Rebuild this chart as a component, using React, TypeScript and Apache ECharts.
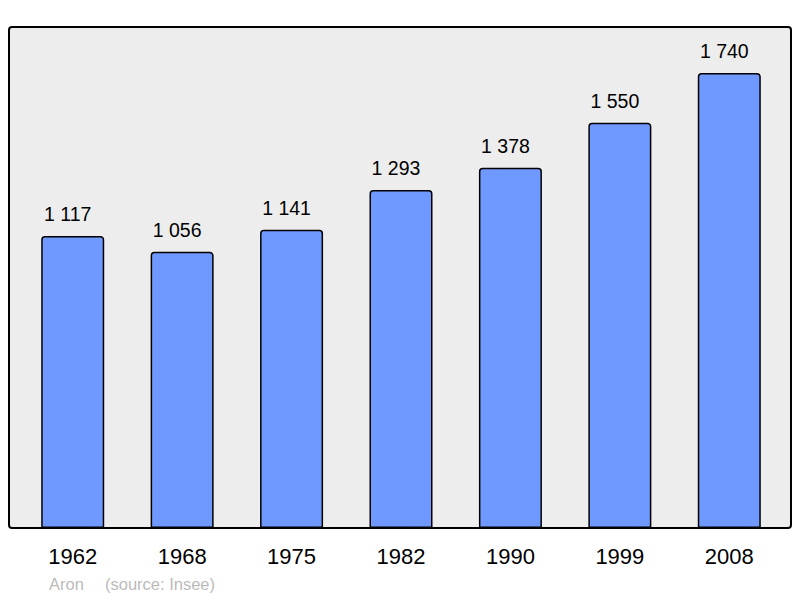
import React, { useEffect, useRef } from "react";
import * as echarts from "echarts";

const years = ["1962", "1968", "1975", "1982", "1990", "1999", "2008"];
const population = [1117, 1056, 1141, 1293, 1378, 1550, 1740];
const footerName = "Aron";
const footerSource = "(source: Insee)";

const fmt = (v: number) => String(v).replace(/\B(?=(\d{3})+(?!\d))/g, " ");
const FONT = "'Liberation Sans', Arial, sans-serif";

export default function App() {
  const ref = useRef<HTMLDivElement>(null);
  useEffect(() => {
    const chart = echarts.init(ref.current!, null, { renderer: "svg" });
    chart.setOption({
      animation: false,
      grid: { left: 18, right: 16, top: 27, bottom: 70 },
      graphic: [
        {
          type: "rect",
          z: -10,
          shape: { x: 9, y: 27, width: 782, height: 501, r: 3 },
          style: { fill: "#ededed", stroke: "#000", lineWidth: 2 },
        },
        {
          type: "text",
          left: 49,
          top: 575,
          style: { text: footerName, fill: "#bbbbbb", font: "16.5px " + FONT },
        },
        {
          type: "text",
          left: 105,
          top: 575,
          style: { text: footerSource, fill: "#bbbbbb", font: "16.5px " + FONT },
        },
      ],
      xAxis: {
        type: "category",
        data: years,
        axisLine: { show: false },
        axisTick: { show: false },
        axisLabel: {
          margin: 17,
          color: "#000",
          fontSize: 22,
          fontFamily: FONT,
        },
      },
      yAxis: {
        type: "value",
        min: 0,
        max: 1916,
        show: false,
        splitLine: { show: false },
      },
      series: [
        {
          type: "bar",
          data: population,
          barWidth: 63,
          itemStyle: {
            color: "#7099ff",
            borderColor: "#000",
            borderWidth: 1.5,
            borderRadius: [3, 3, 0, 0],
          },
          label: {
            show: true,
            position: "top",
            distance: 12,
            offset: [-5, 0],
            color: "#000",
            fontSize: 19.5,
            fontFamily: FONT,
            formatter: (p: any) => fmt(p.value),
          },
        },
      ],
    });
    return () => chart.dispose();
  }, []);
  return <div ref={ref} style={{ width: 800, height: 598, position: "absolute", left: 0, top: 0 }} />;
}
